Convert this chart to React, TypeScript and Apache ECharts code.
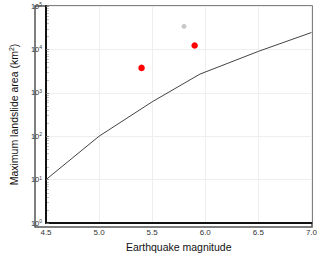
import React, { useEffect, useRef } from "react";
import * as echarts from "echarts";

const curveMag = [4.5, 5.0, 5.5, 5.95, 6.5, 7.0];
const curveArea = [10, 100, 620, 2700, 9000, 24500];
const redMag = [5.4, 5.9];
const redArea = [3750, 12300];
const grayMag = [5.8];
const grayArea = [34000];
const yDecades = [1, 10, 100, 1000, 10000, 100000];
const minorMult = [2, 3, 4, 5, 6, 7, 8, 9];

const FONT = "Liberation Sans, Arial, Helvetica, sans-serif";

export default function App() {
  const ref = useRef<HTMLDivElement>(null);
  useEffect(() => {
    const chart = echarts.init(ref.current!, null, { renderer: "svg" });
    const minorVals: number[][] = [];
    yDecades.slice(0, -1).forEach((d) => minorMult.forEach((m) => minorVals.push([4.5, d * m])));
    chart.setOption({
      animation: false,
      grid: { left: 35, right: 8, top: 6, bottom: 30 },
      xAxis: {
        type: "value",
        min: 4.5,
        max: 7.0,
        interval: 0.5,
        name: "Earthquake magnitude",
        nameLocation: "middle",
        nameGap: 18,
        nameTextStyle: { fontFamily: FONT, fontSize: 10.5, color: "#111" },
        axisLine: { show: true, lineStyle: { color: "#111", width: 2 } },
        axisTick: { show: false },
        axisLabel: {
          fontFamily: FONT,
          fontSize: 8,
          color: "#333",
          margin: 5,
          formatter: (v: number) => v.toFixed(1),
        },
        splitLine: { show: true, lineStyle: { color: "#eeeeee", width: 1 } },
      },
      yAxis: {
        type: "log",
        logBase: 10,
        min: 1,
        max: 100000,
        name: "Maximum landslide area (km{s|2})",
        nameLocation: "middle",
        nameGap: 26,
        nameTextStyle: {
          fontFamily: FONT,
          fontSize: 10.5,
          color: "#111",
          rich: { s: { fontFamily: FONT, fontSize: 7, verticalAlign: "top", padding: [0, 0, 5, 0], color: "#111" } },
        },
        axisLine: { show: true, lineStyle: { color: "#111", width: 2 } },
        axisTick: { show: true, inside: true, length: 3, lineStyle: { color: "#777", width: 0.8 } },
        axisLabel: {
          fontFamily: FONT,
          fontSize: 7.5,
          color: "#333",
          margin: 4,
          formatter: (v: number) => "{b|10}{e|" + Math.round(Math.log10(v)) + "}",
          rich: {
            b: { fontFamily: FONT, fontSize: 7.5, color: "#333" },
            e: { fontFamily: FONT, fontSize: 5, color: "#333", verticalAlign: "top", padding: [0, 0, 4, 0] },
          },
        },
        splitLine: { show: true, lineStyle: { color: "#eeeeee", width: 1 } },
      },
      series: [
        {
          type: "custom",
          silent: true,
          z: 1,
          clip: false,
          data: minorVals,
          renderItem: (params: any, api: any) => {
            const p = api.coord([api.value(0), api.value(1)]);
            return {
              type: "line",
              shape: { x1: p[0] + 1, y1: Math.round(p[1]) + 0.5, x2: p[0] + 3, y2: Math.round(p[1]) + 0.5 },
              style: { stroke: "#999", lineWidth: 0.6 },
            };
          },
        },
        {
          type: "line",
          data: curveMag.map((m, i) => [m, curveArea[i]]),
          symbol: "none",
          lineStyle: { color: "#444", width: 1 },
          z: 2,
        },
        {
          type: "scatter",
          data: grayMag.map((m, i) => [m, grayArea[i]]),
          symbolSize: 5,
          itemStyle: { color: "#c8c8c8", opacity: 1 },
          z: 3,
        },
        {
          type: "scatter",
          data: redMag.map((m, i) => [m, redArea[i]]),
          symbolSize: 6.5,
          itemStyle: { color: "#ff0000", opacity: 1 },
          z: 3,
        },
      ],
      graphic: [
        {
          type: "rect",
          shape: { x: 35, y: 6, width: 277, height: 221 },
          style: { fill: "none", stroke: "#555", lineWidth: 1.5 },
          z: 0,
          silent: true,
        },
      ],
    });
    return () => chart.dispose();
  }, []);
  return <div ref={ref} style={{ width: 320, height: 257, position: "absolute", left: 0, top: 0 }} />;
}
